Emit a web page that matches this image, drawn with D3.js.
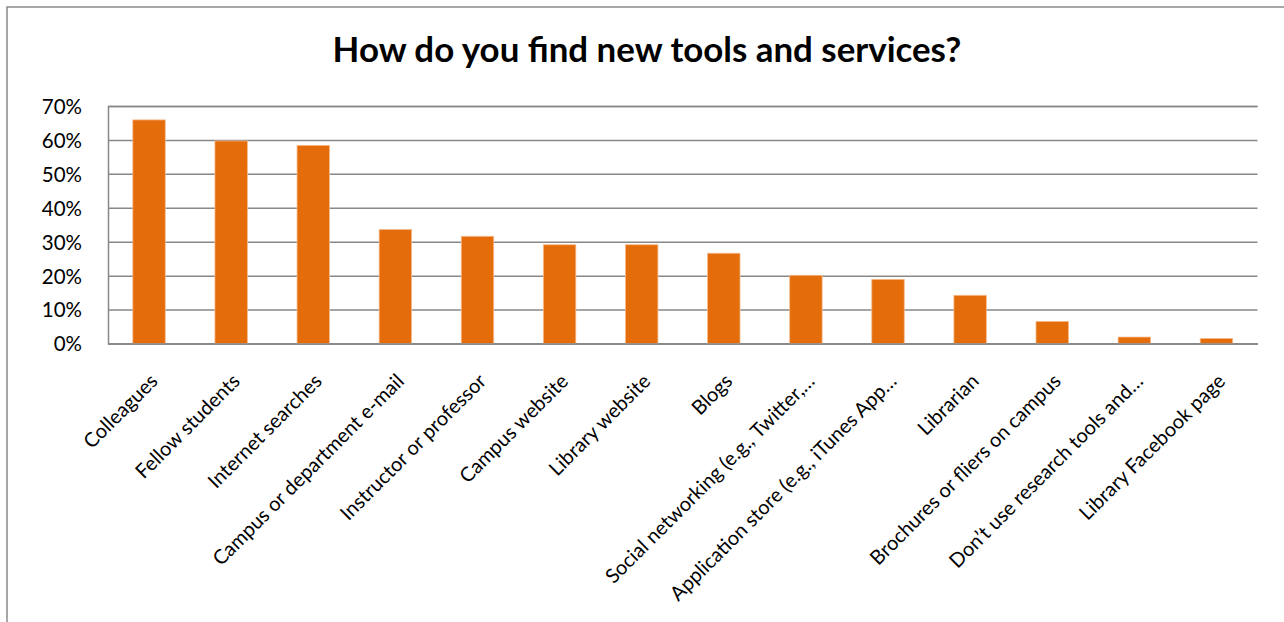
<!DOCTYPE html>
<html>
<head>
<meta charset="utf-8">
<script src="https://cdn.jsdelivr.net/npm/d3@7"></script>
<style>
  body { margin: 0; background: #fff; }
  svg { display: block; }
</style>
</head>
<body>
<svg id="chart" width="1284" height="622"></svg>
<script>
//

const title = 'How do you find new tools and services?'

const categories = [
  'Colleagues',
  'Fellow students',
  'Internet searches',
  'Campus or department e-mail',
  'Instructor or professor',
  'Campus website',
  'Library website',
  'Blogs',
  'Social networking (e.g., Twitter,…',
  'Application store (e.g., iTunes App…',
  'Librarian',
  'Brochures or fliers on campus',
  'Don’t use research tools and…',
  'Library Facebook page'
]

const values = [0.659, 0.597, 0.584, 0.336, 0.316, 0.291, 0.291, 0.266, 0.201, 0.189, 0.142, 0.065, 0.019, 0.015]

const yTicks = [0, 0.1, 0.2, 0.3, 0.4, 0.5, 0.6, 0.7]

//

const font = 'Lato, "Open Sans", sans-serif'
const grid = '#888888'

const svg = d3.select('#chart')

const plot = { left: 108, right: 1257.5, top: 106, bottom: 343.5 }

const x = d3.scaleBand()
  .domain(categories)
  .range([plot.left, plot.right])
  .paddingInner(0.605)
  .paddingOuter(0.3025)

const y = d3.scaleLinear()
  .domain([0, 0.7])
  .range([plot.bottom, plot.top])

// outer frame
svg.append('path')
  .attr('d', 'M7,622 V7 H1284')
  .attr('fill', 'none')
  .attr('stroke', '#8a8a8a')
  .attr('stroke-width', 1.5)

// title, fitted to the width it has in the original
const t = svg.append('text')
  .attr('x', 647)
  .attr('y', 62)
  .attr('text-anchor', 'middle')
  .style('font-family', font)
  .style('font-weight', 700)
  .style('font-size', '29px')
  .text(title)
const tw = t.node().getComputedTextLength()
t.style('font-size', (29 * 629 / tw) + 'px')

// y axis with gridlines
const yAxis = d3.axisLeft(y)
  .tickValues(yTicks)
  .tickFormat(d3.format('.0%'))
  .tickSize(-(plot.right - plot.left))
  .tickPadding(26)

const gy = svg.append('g')
  .attr('transform', `translate(${plot.left},0)`)
  .call(yAxis)
gy.select('.domain').attr('stroke', grid).attr('stroke-width', 1.5)
gy.selectAll('.tick line').attr('stroke', grid).attr('stroke-width', 1.5)
gy.selectAll('.tick text')
  .attr('fill', '#000')
  .attr('dy', '0.36em')
  .style('font-family', font)
  .style('font-size', '20.5px')

// bars
svg.append('g')
  .selectAll('rect')
  .data(values)
  .join('rect')
  .attr('x', (d, i) => x(categories[i]))
  .attr('width', x.bandwidth())
  .attr('y', d => y(d))
  .attr('height', d => y(0) - y(d))
  .attr('fill', '#e46c0a')
  .attr('stroke', '#f6b98a')
  .attr('stroke-width', 0.8)

// x axis
const xAxis = d3.axisBottom(x)
  .tickSize(0)
  .tickPadding(0)

const gx = svg.append('g')
  .attr('transform', `translate(0,${plot.bottom})`)
  .call(xAxis)
gx.select('.domain').attr('stroke', grid).attr('stroke-width', 1.5)
gx.selectAll('.tick text')
  .attr('fill', '#000')
  .attr('text-anchor', 'end')
  .attr('y', 0)
  .attr('dy', '0.35em')
  .attr('transform', 'translate(5,34) rotate(-45)')
  .style('font-family', font)
  .style('font-size', '20px')
</script>
</body>
</html>
